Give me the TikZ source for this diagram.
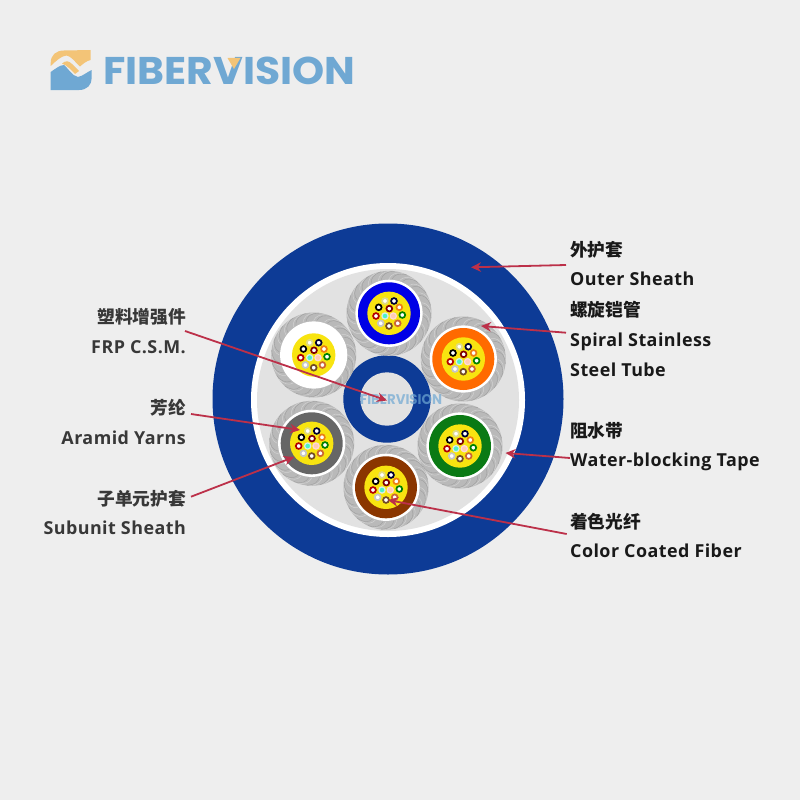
\documentclass[tikz,border=0pt]{standalone}
\usepackage{fontspec}
\usepackage{graphicx}
\usetikzlibrary{arrows.meta}
\newfontfamily\cjkfont{Noto Sans CJK SC}
\newfontfamily\latfont[LetterSpace=2.5]{Open Sans}
\newfontfamily\logofont{Poppins}
\definecolor{bgc}{HTML}{EEEEEE}
\definecolor{sheathc}{HTML}{0D3B96}
\definecolor{innerc}{HTML}{E2E2E2}
\definecolor{ropec}{HTML}{B9B9B9}
\definecolor{ropelt}{HTML}{D2D2D2}
\definecolor{ropedk}{HTML}{9C9C9C}
\definecolor{yarnc}{HTML}{F8E410}
\definecolor{redc}{HTML}{BC3049}
\definecolor{logob}{HTML}{6FA8D3}
\definecolor{logoo}{HTML}{F3C477}
\definecolor{ublue}{HTML}{0000E6}
\definecolor{uorange}{HTML}{FF6A00}
\definecolor{ugreen}{HTML}{0A7A14}
\definecolor{ubrown}{HTML}{8B3600}
\definecolor{ugray}{HTML}{666666}
\tikzset{
  leader/.style={draw=redc,line width=1.8pt,-{Stealth[length=10pt,width=9.5pt]}},
  rlabel/.style={anchor=base west,inner sep=0pt,text=black!90},
  llabel/.style={anchor=base east,inner sep=0pt,text=black!78},
  fibre/.style={line width=1.7pt,fill=white},
}
\newcommand{\latlabel}[1]{{\latfont\fontsize{17.9pt}{20pt}\selectfont\bfseries #1}}
\newcommand{\cjklabel}[1]{{\cjkfont\fontsize{17.7pt}{20pt}\selectfont\bfseries #1}}
\newcommand{\fib}[3]{\draw[fibre,draw=#3] (#1,#2) circle[radius=2.9];}
\newcommand{\subunit}[3]{%
\begin{scope}[shift={(#1,#2)}]
  \fill[ropec] (0,0) circle[radius=42.5];
  \foreach \a in {0,18,...,342}{
    \draw[ropelt,line width=0.5pt] (\a:34.5) .. controls (\a+3:39) and (\a+9:42) .. (\a+20:42.2);
    \draw[ropedk,line width=0.35pt] (\a+5:34.5) .. controls (\a+8:39) and (\a+14:42) .. (\a+25:42.2);
  }
  \fill[white] (0,0) circle[radius=33.6];
  \fill[#3] (0,0) circle[radius=31];
  \fill[yarnc] (0,0) circle[radius=21.7];
  \fib{-4}{-12.3}{yellow!60!gray!70}
  \fib{5}{-12.3}{black!80!blue}
  \fib{-10.3}{-6}{black}
  \fib{0.3}{-4.7}{red!50!black}
  \fib{10.3}{-6}{orange!70!brown}
  \fib{-13}{2.7}{red!70!black}
  \draw[line width=1.2pt,draw=white!85!teal,fill=teal!40!green!40!cyan!70] (-4,2.7) circle[radius=3.1];
  \draw[line width=1.2pt,draw=white!85!red,fill=red!35!orange!30] (4.3,2.7) circle[radius=3.1];
  \fib{13.3}{1.7}{green!50!black}
  \fib{-8.3}{10}{gray!45}
  \fib{0}{12.7}{brown!60!black}
  \fib{8.7}{10}{brown!80!red}
\end{scope}}
\begin{document}
\begin{tikzpicture}[x=1pt,y=-1pt]
\useasboundingbox (0,0) rectangle (800,800);
\fill[bgc] (0,0) rectangle (800,800);
% logo
\fill[logoo] (50.7,66) -- (50.7,63) .. controls (50.7,55) and (56,50.5) .. (64,50.5) -- (90.7,50) -- (90.7,60)
  .. controls (86,61) and (83,64) .. (80,66.5) .. controls (75,62) and (71,56) .. (66.5,55.5) .. controls (61,56) and (56,61) .. (50.7,66) -- cycle;
\fill[logoo] (62,63.5) .. controls (66,60) and (69,61) .. (72,64) -- (79,71) -- (75,74) -- (69,68) .. controls (67,66) and (65,65) .. (62,63.5) -- cycle;
\fill[logob] (50.7,72) .. controls (55,69) and (60,65) .. (64,65) .. controls (68,68) and (72,76) .. (78,77) .. controls (83,76) and (87,72) .. (91.7,70) -- (91.7,78) .. controls (91.7,85) and (87,90) .. (79,90) -- (50.7,90) -- cycle;
\node[anchor=north west,inner sep=0pt,text=logob] (logotext) at (103,56.5) {\resizebox{252pt}{27.5pt}{\logofont\bfseries FIBERVISION}};
\fill[logoo] (227.5,58) -- (240.5,58) -- (234,69) -- cycle;
% cable
\fill[sheathc] (388,399) circle[radius=175.5];
\fill[white] (388,400) circle[radius=137];
\fill[innerc] (388,400) circle[radius=131];
\fill[sheathc] (387,399) circle[radius=43.7];
\fill[innerc] (387,399) circle[radius=26.7];
\subunit{389}{313.3}{ublue}
\subunit{313.7}{355}{white}
\subunit{463.3}{359}{uorange}
\subunit{460}{446}{ugreen}
\subunit{386}{487.3}{ubrown}
\subunit{311.7}{443.3}{ugray}
\node[inner sep=0pt,text=logob,opacity=0.7] (watermark) at (401,400) {\resizebox{82pt}{10pt}{\logofont\bfseries FIBERVISION}};
% labels
\node[rlabel] (zo) at (570,256.5) {\cjklabel{外护套}};
\node[rlabel] (eo) at (570,285.5) {\latlabel{Outer Sheath}};
\node[rlabel] (zs) at (570,316.5) {\cjklabel{螺旋铠管}};
\node[rlabel] (es) at (570,346) {\latlabel{Spiral Stainless}};
\node[rlabel] (es2) at (570,376) {\latlabel{Steel Tube}};
\node[rlabel] (zw) at (570,437) {\cjklabel{阻水带}};
\node[rlabel] (ew) at (570,466.5) {\latlabel{Water-blocking Tape}};
\node[rlabel] (zc) at (570,528) {\cjklabel{着色光纤}};
\node[rlabel] (ec) at (570,557) {\latlabel{Color Coated Fiber}};
\node[llabel] (zf) at (186,323.5) {\cjklabel{塑料增强件}};
\node[llabel] (ef) at (186,353) {\latlabel{FRP C.S.M.}};
\node[llabel] (za) at (186,414.5) {\cjklabel{芳纶}};
\node[llabel] (ea) at (186,444) {\latlabel{Aramid Yarns}};
\node[llabel] (zu) at (186,505.5) {\cjklabel{子单元护套}};
\node[llabel] (eu) at (186,534) {\latlabel{Subunit Sheath}};
% leaders
\coordinate (t1) at (566,265); \coordinate (h1) at (471,267.3);
\coordinate (t2) at (566,332.7); \coordinate (h2) at (481,326);
\coordinate (t3) at (570,458); \coordinate (h3) at (505.5,453);
\coordinate (t4) at (566.7,534); \coordinate (h4) at (388,500);
\coordinate (t5) at (185,331); \coordinate (h5) at (387,400.5);
\coordinate (t6) at (191,414); \coordinate (h6) at (300,430);
\coordinate (t7) at (191,496.7); \coordinate (h7) at (294,457);
\foreach \i in {1,...,7}{\draw[leader] (t\i) -- (h\i);}
\end{tikzpicture}
\end{document}
